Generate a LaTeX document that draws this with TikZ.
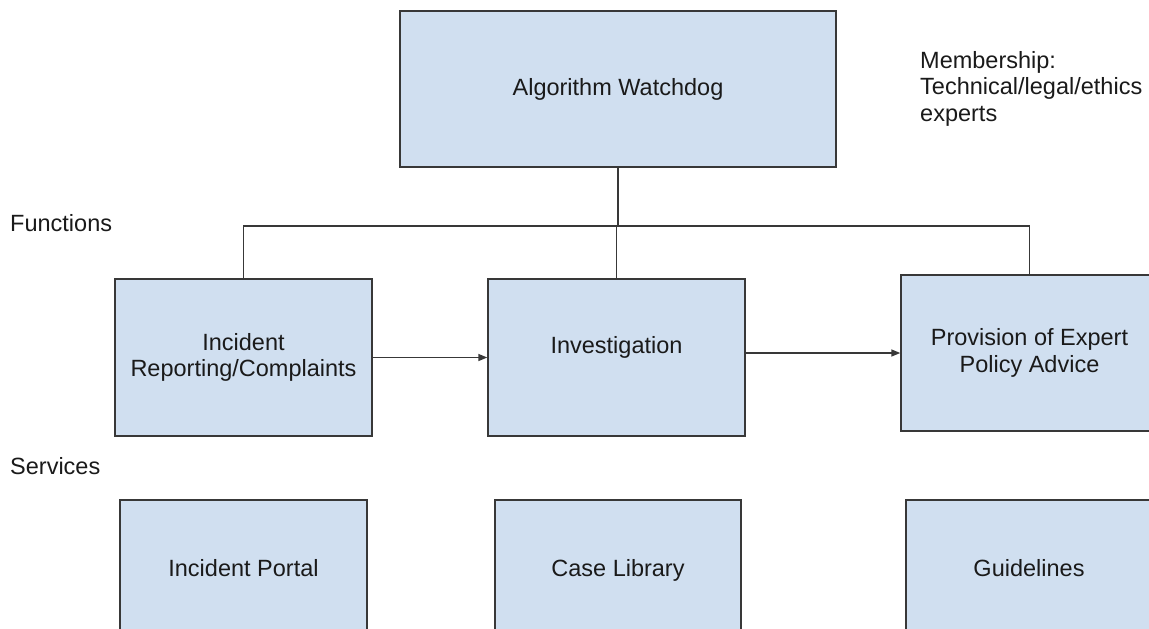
\documentclass[tikz,border=0pt]{standalone}
\usepackage{fontspec}
\setmainfont{Liberation Sans}
\usetikzlibrary{arrows.meta}
\definecolor{boxfill}{HTML}{D0DFF0}
\definecolor{edgecol}{HTML}{383838}
\definecolor{txt}{HTML}{1A1A1A}
\begin{document}
\begin{tikzpicture}[x=1pt,y=-1pt,
  every node/.style={font=\fontsize{23.5}{26.5}\selectfont, text=txt},
  box/.style={draw=edgecol, line width=1.4pt, fill=boxfill, inner sep=0pt, align=center},
  lbl/.style={inner sep=0pt, align=left},
  conn/.style={draw=edgecol, line width=1.4pt},
  arr/.style={conn, -{Triangle[length=9pt,width=7pt]}}]
\path[use as bounding box] (0,0) rectangle (1149,629);
\clip (0,0) rectangle (1149,629);
\fill[white] (0,0) rectangle (1149,629);
% top box
\node[box, minimum width=436pt, minimum height=156pt] (watch) at (618,89) {Algorithm Watchdog};
% functions
\node[box, minimum width=257pt, minimum height=157pt] (inc) at (243.5,357.5) {Incident\\Reporting/Complaints};
\node[box, minimum width=257pt, minimum height=157pt] (inv) at (616.5,357.5) {};
\node[lbl] (invt) at (616.5,347) {Investigation};
\node[box, minimum width=257pt, minimum height=156pt] (prov) at (1029.5,353) {Provision of Expert\\Policy Advice};
% services
\node[box, minimum width=247pt, minimum height=136pt] (portal) at (243.5,568) {Incident Portal};
\node[box, minimum width=246pt, minimum height=136pt] (caselib) at (618,568) {};
\node[lbl] (caselibt) at (618,570) {Case Library};
\node[box, minimum width=246pt, minimum height=136pt] (guide) at (1029,568) {Guidelines};
% labels
\node[lbl, anchor=west] (functions) at (10,223) {Functions};
\node[lbl, anchor=west] (services) at (10,466) {Services};
\node[lbl, anchor=north west] (member) at (920,51) {Membership:\\Technical/legal/ethics\\experts};
% connectors
\coordinate (bus) at (618,226);
\draw[conn] (watch.south) -- (bus);
\draw[conn] (inc.north) |- (prov.north |- bus) -- (prov.north);
\draw[conn] (inv.north) -- (inv.north |- bus);
\draw[arr] (inc.east) -- (inv.west |- inc.east);
\draw[arr] (inv.east |- prov.west) -- (prov.west);
\end{tikzpicture}
\end{document}
